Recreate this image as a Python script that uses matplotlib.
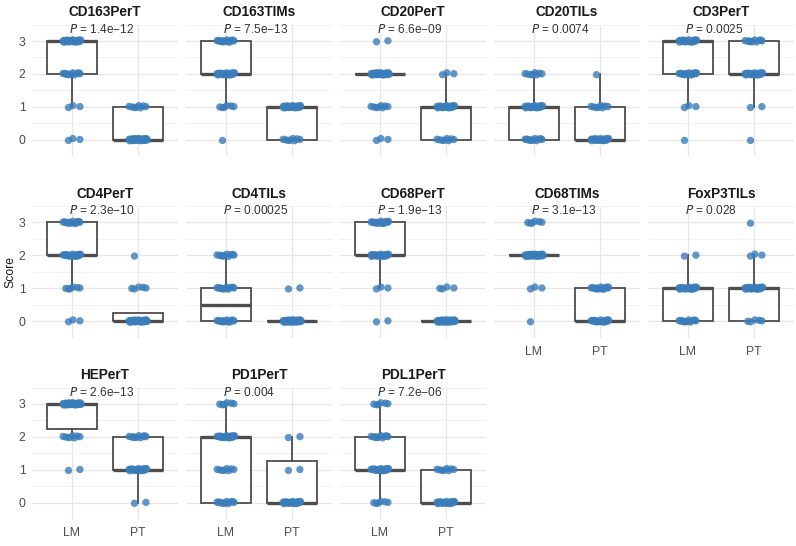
import numpy as np
import matplotlib.pyplot as plt

# panel titles and p-value labels
markers = ['CD163PerT', 'CD163TIMs', 'CD20PerT', 'CD20TILs', 'CD3PerT',
           'CD4PerT', 'CD4TILs', 'CD68PerT', 'CD68TIMs', 'FoxP3TILs',
           'HEPerT', 'PD1PerT', 'PDL1PerT']
pvals = ['1.4e\u221212', '7.5e\u221213', '6.6e\u221209', '0.0074', '0.0025',
         '2.3e\u221210', '0.00025', '1.9e\u221213', '3.1e\u221213', '0.028',
         '2.6e\u221213', '0.004', '7.2e\u221206']
groups = ['LM', 'PT']

# box stats per panel: (whislo, q1, median, q3, whishi)
box_lm = [(1, 2, 3, 3, 3), (1, 2, 2, 3, 3), (2, 2, 2, 2, 2), (0, 0, 1, 1, 2), (1, 2, 3, 3, 3),
          (1, 2, 2, 3, 3), (0, 0, 0.5, 1, 2), (1, 2, 2, 3, 3), (2, 2, 2, 2, 2), (0, 0, 1, 1, 2),
          (2, 2.25, 3, 3, 3), (0, 0, 2, 2, 3), (0, 1, 1, 2, 3)]
box_pt = [(0, 0, 0, 1, 1), (0, 0, 1, 1, 1), (0, 0, 1, 1, 2), (0, 0, 0, 1, 2), (1, 2, 2, 3, 3),
          (0, 0, 0, 0.25, 0.25), (0, 0, 0, 0, 0), (0, 0, 0, 0, 0), (0, 0, 0, 1, 1), (0, 0, 1, 1, 2),
          (0, 1, 1, 2, 2), (0, 0, 0, 1.25, 2), (0, 0, 0, 1, 1)]

# number of patients at score 0,1,2,3
counts_lm = [[3, 3, 12, 25], [1, 6, 20, 14], [3, 8, 28, 2], [12, 20, 8, 0], [1, 3, 15, 22],
             [3, 6, 18, 14], [14, 12, 10, 0], [2, 3, 20, 16], [1, 3, 30, 6], [12, 20, 2, 0],
             [0, 2, 8, 30], [12, 8, 18, 6], [6, 18, 10, 6]]
counts_pt = [[30, 8, 0, 0], [8, 25, 0, 0], [8, 20, 3, 0], [22, 8, 1, 0], [1, 2, 20, 10],
             [28, 5, 1, 0], [35, 2, 0, 0], [35, 4, 0, 0], [18, 15, 0, 0], [5, 22, 3, 1],
             [2, 20, 10, 0], [20, 2, 2, 0], [20, 8, 0, 0]]

W, H = 796, 546
fig = plt.figure(figsize=(W / 100, H / 100), dpi=100)
plt.rcParams['font.family'] = ['Liberation Sans', 'DejaVu Sans']

grey = '#4d4d4d'
pt_col = '#3a7dbb'
unit = 66.0
row_top = [24.6, 206.0, 387.5]
row_h = 131.5


def jitter(n):
    k = np.arange(n)
    dx = ((k * 0.618034 + 0.31) % 1 - 0.5) * 0.28
    dy = ((k * 0.4142 + 0.17) % 1 - 0.5) * 0.07
    return dx, dy


for i, name in enumerate(markers):
    r, c = divmod(i, 5)
    left = 72 - 0.6 * unit + 154 * c
    ax = fig.add_axes([left / W, 1 - (row_top[r] + row_h) / H, 2.2 * unit / W, row_h / H])

    stats = []
    for b in (box_lm[i], box_pt[i]):
        stats.append(dict(whislo=b[0], q1=b[1], med=b[2], q3=b[3], whishi=b[4]))
    ax.bxp(stats, positions=[1, 2], widths=0.76, showfliers=False, showcaps=False,
           patch_artist=True, manage_ticks=False,
           boxprops=dict(facecolor='white', edgecolor=grey, lw=1.3),
           whiskerprops=dict(color=grey, lw=1.3),
           medianprops=dict(color=grey, lw=2.4, solid_capstyle='butt'))

    for g, cnts in enumerate((counts_lm[i], counts_pt[i])):
        for score, n in enumerate(cnts):
            if n == 0:
                continue
            dx, dy = jitter(n)
            ax.scatter(g + 1 + dx, score + dy, s=28, color=pt_col, alpha=0.8,
                       edgecolors='none', zorder=5)

    ax.set_xlim(0.4, 2.6)
    ax.set_ylim(-0.5, 3.5)
    ax.set_yticks([0, 1, 2, 3])
    ax.set_yticks([-0.5, 0.5, 1.5, 2.5, 3.5], minor=True)
    ax.set_xticks([1, 2])
    ax.grid(True, which='major', color='#e6e6e6', lw=0.9)
    ax.grid(True, which='minor', axis='y', color='#f0f0f0', lw=0.6)
    ax.set_axisbelow(True)
    for s in ax.spines.values():
        s.set_visible(False)
    ax.tick_params(which='both', length=0, colors=grey, labelsize=8.8, pad=5)
    if c != 0:
        ax.set_yticklabels([])
    bottom = (r == 2) or (r == 1 and c >= 3)
    if bottom:
        ax.set_xticklabels(groups, fontsize=8.8)
        ax.tick_params(axis='x', pad=6)
    else:
        ax.set_xticklabels([])

    ax.set_title(name, fontsize=9.8, fontweight='bold', color='#1a1a1a', pad=6)
    ax.text(0.95, 3.35, '$P$ = ' + pvals[i], fontsize=8.6, color='#333333',
            ha='left', va='center')

fig.text(10 / W, 1 - 272 / H, 'Score', rotation=90, fontsize=8.8, color='#1a1a1a',
         ha='center', va='center')

fig.savefig('out.png', dpi=100, facecolor='white')
